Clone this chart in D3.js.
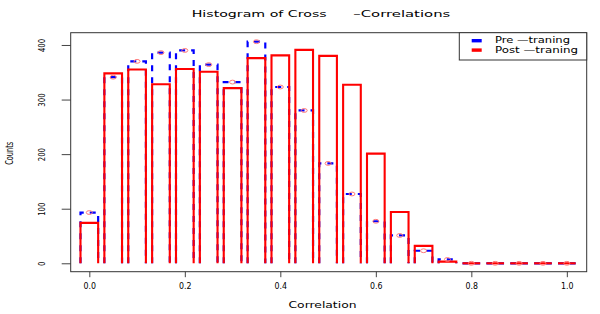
<!DOCTYPE html>
<html>
<head>
<meta charset="utf-8">
<script src="https://cdn.jsdelivr.net/npm/d3@7"></script>
<style>
  body { margin: 0; background: #fff; }
  text { font-family: "DejaVu Sans", sans-serif; fill: #000; }
  .narrow { font-family: "DejaVu Sans Condensed", "Liberation Sans Narrow", sans-serif; }
</style>
</head>
<body>
<div id="chart"></div>
<script>
// histogram bins (centre of each bin) and counts
const binCenters = [0.00, 0.05, 0.10, 0.15, 0.20, 0.25, 0.30, 0.35, 0.40, 0.45, 0.50,
                    0.55, 0.60, 0.65, 0.70, 0.75, 0.80, 0.85, 0.90, 0.95, 1.00];
const preCounts = [93, 341, 370, 386, 390, 364, 332, 406, 323, 280, 183,
                   127, 77, 51, 23, 7, 0, 0, 0, 0, 0];
const postCounts = [74, 348, 355, 328, 356, 351, 321, 376, 381, 391, 380,
                    327, 201, 94, 32, 3, 0, 0, 0, 0, 0];
const xTicks = [0, 0.2, 0.4, 0.6, 0.8, 1.0];
const yTicks = [0, 100, 200, 300, 400];
const legendLabels = ["Pre \u2014traning", "Post \u2014traning"];
const legendColors = ["#0000ff", "#ff0000"];

class HistogramChart {
  constructor(_config) {
    this.config = {
      parentElement: _config.parentElement,
      containerWidth: _config.containerWidth || 600,
      containerHeight: _config.containerHeight || 314,
      margin: _config.margin || { top: 32.7, right: 13.3, bottom: 42.3, left: 70.7 },
      halfBin: 0.0185
    };
    this.initVis();
  }

  initVis() {
    let vis = this;
    let m = vis.config.margin;
    vis.width = vis.config.containerWidth - m.left - m.right;
    vis.height = vis.config.containerHeight - m.top - m.bottom;

    vis.svgRoot = d3.select(vis.config.parentElement)
      .append("svg")
      .attr("width", vis.config.containerWidth)
      .attr("height", vis.config.containerHeight);

    vis.svg = vis.svgRoot.append("g")
      .attr("transform", `translate(${m.left},${m.top})`);

    vis.xScale = d3.scaleLinear().domain([-0.039, 1.0416]).range([0, vis.width]);
    vis.yScale = d3.scaleLinear().domain([-15.4, 422.5]).range([vis.height, 0]);

    // y axis, labels turned on their side like base R
    let yAxis = vis.svg.append("g")
      .attr("class", "axis")
      .call(d3.axisLeft(vis.yScale).tickValues(yTicks).tickSize(9).tickFormat(d3.format("d")));
    yAxis.select(".domain").remove();
    yAxis.selectAll("line").attr("stroke", "#444");
    yAxis.selectAll("text")
      .attr("class", "narrow")
      .attr("transform", "rotate(-90)")
      .attr("x", 0)
      .attr("y", -25.4)
      .attr("dy", 0)
      .attr("text-anchor", "middle")
      .attr("font-size", 8)
      .attr("textLength", d => String(d).length * 4.4)
      .attr("lengthAdjust", "spacingAndGlyphs");

    let xAxis = vis.svg.append("g")
      .attr("class", "axis")
      .attr("transform", `translate(0,${vis.height})`)
      .call(d3.axisBottom(vis.xScale).tickValues(xTicks).tickSize(5.5).tickFormat(d3.format(".1f")));
    xAxis.select(".domain").remove();
    xAxis.selectAll("line").attr("stroke", "#444");
    xAxis.selectAll("text")
      .attr("y", 17.3)
      .attr("dy", 0)
      .attr("font-size", 8)
      .attr("textLength", 12.5)
      .attr("lengthAdjust", "spacingAndGlyphs");

    // plot box
    vis.svg.append("rect")
      .attr("width", vis.width)
      .attr("height", vis.height)
      .attr("fill", "none")
      .attr("stroke", "#333")
      .attr("stroke-width", 1);

    // titles
    vis.svgRoot.append("text")
      .attr("x", 326.7).attr("y", 17.3)
      .attr("text-anchor", "end")
      .attr("font-size", 8.5)
      .attr("textLength", 135)
      .attr("lengthAdjust", "spacingAndGlyphs")
      .text("Histogram of Cross");
    vis.svgRoot.append("text")
      .attr("x", 353.3).attr("y", 17.3)
      .attr("font-size", 8.5)
      .attr("textLength", 97)
      .attr("lengthAdjust", "spacingAndGlyphs")
      .text("\u2013Correlations");

    vis.svgRoot.append("text")
      .attr("x", 322.5).attr("y", 308.3)
      .attr("text-anchor", "middle")
      .attr("font-size", 9)
      .attr("textLength", 68)
      .attr("lengthAdjust", "spacingAndGlyphs")
      .text("Correlation");

    vis.svgRoot.append("text")
      .attr("class", "narrow")
      .attr("transform", "translate(13.3,153.3) rotate(-90)")
      .attr("text-anchor", "middle")
      .attr("font-size", 11)
      .attr("textLength", 23)
      .attr("lengthAdjust", "spacingAndGlyphs")
      .text("Counts");
  }

  barPath(c, count) {
    let vis = this;
    let x0 = vis.xScale(c - vis.config.halfBin);
    let x1 = vis.xScale(c + vis.config.halfBin);
    let yb = vis.yScale(0);
    let yt = vis.yScale(count);
    return `M${x0},${yb}L${x0},${yt}L${x1},${yt}L${x1},${yb}`;
  }

  renderVis() {
    let vis = this;
    let bins = binCenters.map((c, i) => ({ c: c, pre: preCounts[i], post: postCounts[i] }));

    vis.svg.selectAll(".pre-bar")
      .data(bins)
      .join("path")
      .attr("class", "pre-bar")
      .attr("d", d => vis.barPath(d.c, d.pre))
      .attr("fill", "none")
      .attr("stroke", legendColors[0])
      .attr("stroke-width", 2.2)
      .attr("stroke-dasharray", "6,6");

    vis.svg.selectAll(".post-bar")
      .data(bins)
      .join("path")
      .attr("class", "post-bar")
      .attr("d", d => vis.barPath(d.c, d.post))
      .attr("fill", "none")
      .attr("stroke", legendColors[1])
      .attr("stroke-width", 2.1);

    vis.svg.selectAll(".pre-point")
      .data(bins)
      .join("ellipse")
      .attr("class", "pre-point")
      .attr("cx", d => vis.xScale(d.c))
      .attr("cy", d => vis.yScale(d.pre))
      .attr("rx", 3)
      .attr("ry", 1.9)
      .attr("fill", "none")
      .attr("stroke", "#ff7878")
      .attr("stroke-width", 1);

    // legend in the top right corner of the plot
    let legend = vis.svg.append("g")
      .attr("transform", `translate(${vis.width - 127.4},0)`);
    legend.append("rect")
      .attr("width", 127.4)
      .attr("height", 27.3)
      .attr("fill", "#fff")
      .attr("stroke", "#333");
    legendLabels.forEach((label, i) => {
      legend.append("rect")
        .attr("x", 12.4)
        .attr("y", 6.3 + i * 9.4)
        .attr("width", 10)
        .attr("height", 3.4)
        .attr("fill", legendColors[i]);
      legend.append("text")
        .attr("x", 35.7)
        .attr("y", 10.6 + i * 9.4)
        .attr("font-size", 8.5)
        .attr("textLength", i === 0 ? 75 : 83)
        .attr("lengthAdjust", "spacingAndGlyphs")
        .text(label);
    });
  }
}

const chart = new HistogramChart({ parentElement: "#chart" });
chart.renderVis();
</script>
</body>
</html>
